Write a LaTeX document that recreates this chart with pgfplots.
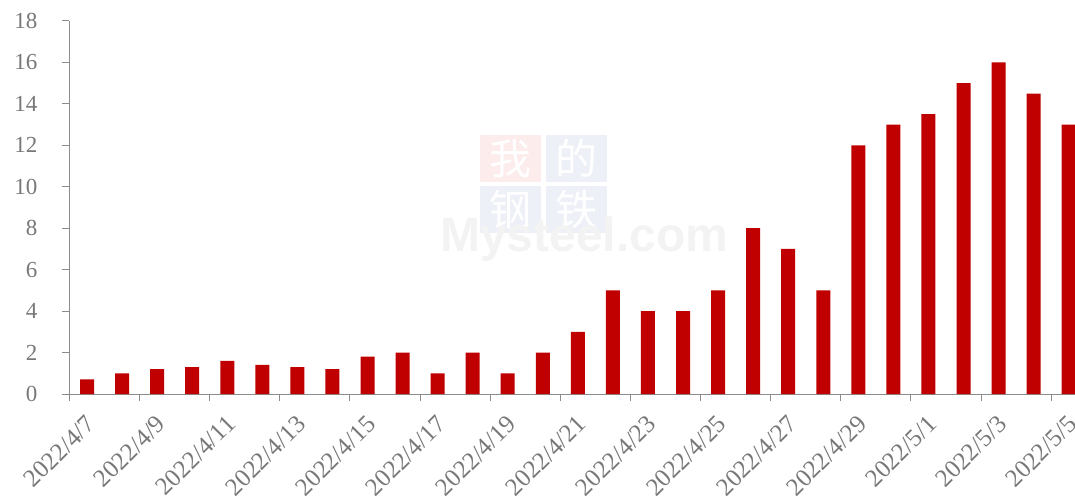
\documentclass[border=0pt]{standalone}
\usepackage{fontspec}
\setmainfont{Liberation Serif}
\setsansfont{Liberation Sans}
\newfontfamily\cjk{Noto Sans CJK SC}
\usepackage{pgfplots}
\pgfplotsset{compat=1.18}
\definecolor{barred}{RGB}{192,0,0}
\definecolor{axgray}{RGB}{140,140,140}
\definecolor{txtgray}{RGB}{120,120,120}
\definecolor{wmred}{RGB}{252,236,236}
\definecolor{wmblue}{RGB}{238,240,248}
\definecolor{wmgray}{RGB}{243,243,243}
\begin{document}
\begin{tikzpicture}[x=1pt,y=1pt]
% watermark
\fill[wmred] (410.5,212) rectangle (471.5,259);
\fill[wmblue] (476.5,212) rectangle (537.5,259);
\fill[wmblue] (410.5,161) rectangle (471.5,208);
\fill[wmblue] (476.5,161) rectangle (537.5,208);
\node[white, font=\cjk\fontsize{42}{42}\selectfont, inner sep=0pt] at (441,235.5) {我};
\node[white, font=\cjk\fontsize{42}{42}\selectfont, inner sep=0pt] at (507,235.5) {的};
\node[white, font=\cjk\fontsize{42}{42}\selectfont, inner sep=0pt] at (441,184.5) {钢};
\node[white, font=\cjk\fontsize{42}{42}\selectfont, inner sep=0pt] at (507,184.5) {铁};
\node[wmgray, font=\sffamily\bfseries\fontsize{48}{48}\selectfont, anchor=base west, inner sep=0pt] at (370.5,142) {Mysteel.com};
\begin{axis}[
  at={(0,0)}, anchor=south west,
  scale only axis, width=1016.7pt, height=373pt,
  xmin=-0.5, xmax=28.5, ymin=0, ymax=18,
  axis lines=left,
  axis line style={draw=axgray, line width=1pt, -},
  ytick={0,2,...,18},
  xtick={-0.5,1.5,...,27.5},
  xticklabels={},
  extra x ticks={0,2,...,28},
  extra x tick labels={2022/4/7,2022/4/9,2022/4/11,2022/4/13,2022/4/15,2022/4/17,2022/4/19,2022/4/21,2022/4/23,2022/4/25,2022/4/27,2022/4/29,2022/5/1,2022/5/3,2022/5/5},
  extra x tick style={major tick length=0pt},
  tick align=outside,
  major tick length=7pt,
  tick style={draw=axgray, line width=1pt},
  tick label style={text=txtgray},
  /pgf/number format/assume math mode=true,
  xticklabel style={font=\fontsize{25}{25}\selectfont, yshift=-26pt, xshift=4pt, rotate=45, anchor=east, inner sep=0pt},
  yticklabel style={font=\fontsize{23}{23}\selectfont, anchor=east, inner sep=0pt, xshift=-25pt},
  ybar, bar width=14pt, bar shift=0pt,
]
\addplot[fill=barred, draw=none] coordinates {
(0,0.7) (1,1.0) (2,1.2) (3,1.3) (4,1.6) (5,1.4) (6,1.3) (7,1.2) (8,1.8) (9,2.0)
(10,1.0) (11,2.0) (12,1.0) (13,2.0) (14,3.0) (15,5.0) (16,4.0) (17,4.0) (18,5.0) (19,8.0)
(20,7.0) (21,5.0) (22,12.0) (23,13.0) (24,13.5) (25,15.0) (26,16.0) (27,14.5) (28,13.0)
};
\end{axis}
\pgfresetboundingbox
\path (-69.5,-106) rectangle (1005.5,394);
\end{tikzpicture}
\end{document}
